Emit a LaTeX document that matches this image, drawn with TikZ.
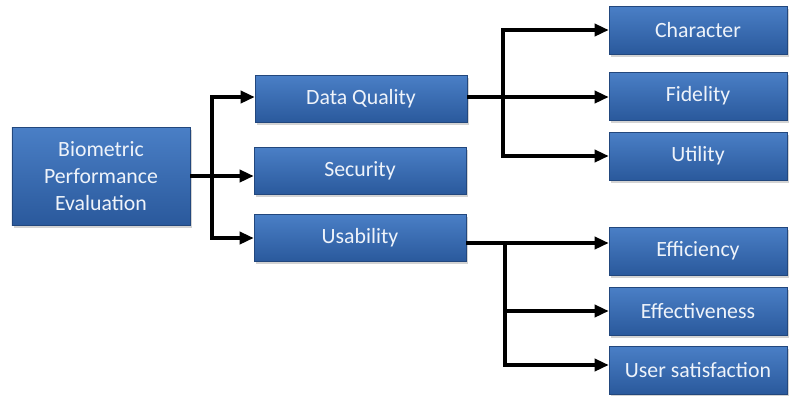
\documentclass[tikz,border=0pt]{standalone}
\usepackage{fontspec}
\setmainfont{Carlito}
\usetikzlibrary{positioning,shadows,arrows.meta}
\definecolor{boxtop}{HTML}{4A7FC6}
\definecolor{boxbot}{HTML}{2A599C}
\definecolor{boxtext}{HTML}{EEF3FA}

\begin{document}
\begin{tikzpicture}[
  x=0.25mm, y=-0.25mm,
  box/.style={rectangle, inner sep=0pt, top color=boxtop, bottom color=boxbot,
    draw=boxbot!80!black, line width=0.3pt, text=boxtext, align=center,
    font=\fontsize{15.5}{19.5}\selectfont,
    drop shadow={opacity=0.35, shadow xshift=0.6mm, shadow yshift=-0.7mm}},
  mainbox/.style={box, minimum width=44.5mm, minimum height=24.5mm},
  midbox/.style={box, minimum width=53mm, minimum height=11.8mm},
  leafbox/.style={box, minimum width=44.5mm, minimum height=12mm},
  link/.style={draw, line width=2.6pt, -{Triangle[length=10pt,width=8.5pt]}},
  trunk/.style={draw, line width=2.6pt}
]
  \useasboundingbox (0,0) rectangle (790,395);

  \node[mainbox] (bio) at (101,176) {Biometric\\Performance\\Evaluation};

  \node[midbox] (dq)  at (361,99)  {Data Quality};
  \node[midbox] (sec) at (360,171) {Security};
  \node[midbox] (use) at (360,238) {Usability};

  \node[leafbox] (chr)  at (698,30)  {Character};
  \node[leafbox] (fid)  at (698,96)  {Fidelity};
  \node[leafbox] (utl)  at (698,156) {Utility};
  \node[leafbox] (effi) at (698,251) {Efficiency};
  \node[leafbox] (effc) at (698,311) {Effectiveness};
  \node[leafbox] (usr)  at (698,370) {User satisfaction};

  % first level
  \coordinate (t1) at (212,176);
  \draw[link] (bio.east) -- (bio.east -| sec.west);
  \draw[link] (t1) |- ([yshift=0.5mm]dq.west);
  \draw[link] (t1) |- (use.west);

  % data quality
  \coordinate (t2) at (503,97);
  \draw[link] (dq.east |- t2) -- (t2 -| fid.west);
  \draw[link] (t2) |- (chr.west);
  \draw[link] (t2) |- (utl.west);

  % usability
  \coordinate (t3) at (505,243);
  \draw[trunk] (use.east |- t3) -- (t3);
  \draw[link] (t3) -- (t3 -| effi.west);
  \draw[link] (t3) |- (effc.west);
  \draw[link] (t3) |- ([yshift=1.25mm]usr.west);
\end{tikzpicture}
\end{document}
